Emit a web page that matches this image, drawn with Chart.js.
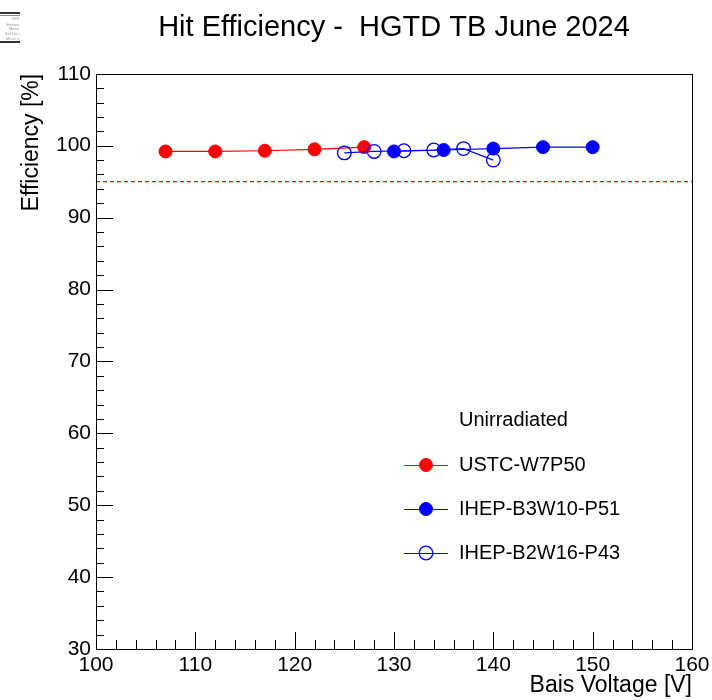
<!DOCTYPE html>
<html>
<head>
<meta charset="utf-8">
<script src="https://cdn.jsdelivr.net/npm/chart.js@4.4.1/dist/chart.umd.min.js"></script>
<style>
  html, body { margin: 0; padding: 0; background: #ffffff; }
  #wrap { width: 712px; height: 700px; }
</style>
</head>
<body>
<div id="wrap"><canvas id="c" width="712" height="700"></canvas></div>
<script>
// Hit efficiency vs. bias voltage, HGTD test beam June 2024
const ustcVoltage = [107, 112, 117, 122, 127];
const ustcEff     = [99.2, 99.2, 99.3, 99.5, 99.8];

const p51Voltage  = [130, 135, 140, 145, 150];
const p51Eff      = [99.2, 99.4, 99.6, 99.8, 99.8];

const p43Voltage  = [125, 128, 131, 134, 137, 140];
const p43Eff      = [99.0, 99.2, 99.3, 99.4, 99.6, 98.0];

const seriesNames = ['USTC-W7P50', 'IHEP-B3W10-P51', 'IHEP-B2W16-P43'];
const legendHeader = 'Unirradiated';
const thresholdEff = 95;

const xTickValues = [100, 110, 120, 130, 140, 150, 160];
const yTickValues = [30, 40, 50, 60, 70, 80, 90, 100, 110];

const FONT = "'Liberation Sans', Arial, Helvetica, sans-serif";
const RED = '#ff0000';
const BLUE = '#0000ff';

const pairs = (xs, ys) => xs.map((x, i) => ({ x: x, y: ys[i] }));

// Inward tick marks (ROOT style), full frame, in-pad legend and stats box corner
const decorations = {
  id: 'decorations',
  afterDraw(chart) {
    const ctx = chart.ctx;
    const a = chart.chartArea;
    const xs = chart.scales.x, ys = chart.scales.y;
    ctx.save();
    ctx.strokeStyle = '#000';
    ctx.lineWidth = 1;

    // frame
    ctx.strokeRect(Math.round(a.left) + 0.5, Math.round(a.top) + 0.5,
                   Math.round(a.right - a.left), Math.round(a.bottom - a.top));

    // y ticks: major every 10, minor every 2
    ctx.beginPath();
    for (let v = ys.min; v <= ys.max + 1e-9; v += 2) {
      const py = Math.round(ys.getPixelForValue(v)) + 0.5;
      const len = (Math.round(v) % 10 === 0) ? 17 : 8;
      ctx.moveTo(a.left, py);
      ctx.lineTo(a.left + len, py);
    }
    // x ticks: major every 10, minor every 2
    for (let v = xs.min; v <= xs.max + 1e-9; v += 2) {
      const px = Math.round(xs.getPixelForValue(v)) + 0.5;
      const len = (Math.round(v) % 10 === 0) ? 17 : 9;
      ctx.moveTo(px, a.bottom);
      ctx.lineTo(px, a.bottom - len);
    }
    ctx.stroke();

    // legend
    const lx0 = 404, lx1 = 448, lmx = 426, tx = 459;
    ctx.font = '20px ' + FONT;
    ctx.fillStyle = '#000';
    ctx.textBaseline = 'middle';
    ctx.textAlign = 'left';
    ctx.fillText(legendHeader, tx, 420);
    const rows = [420 + 45, 420 + 89, 420 + 133];
    for (let i = 0; i < 3; i++) {
      const ds = chart.data.datasets[i];
      const y = rows[i];
      ctx.strokeStyle = ds.borderColor;
      ctx.lineWidth = 1;
      ctx.beginPath();
      ctx.moveTo(lx0, y + 0.5);
      ctx.lineTo(lx1, y + 0.5);
      ctx.stroke();
      ctx.beginPath();
      ctx.arc(lmx, y, ds.pointRadius, 0, Math.PI * 2);
      ctx.fillStyle = ds.pointBackgroundColor;
      ctx.fill();
      ctx.lineWidth = ds.pointBorderWidth;
      ctx.strokeStyle = ds.pointBorderColor;
      ctx.stroke();
      ctx.fillStyle = '#000';
      ctx.fillText(ds.label, tx, y);
    }

    // clipped statistics box in the corner
    ctx.fillStyle = '#fff';
    ctx.fillRect(0, 12, 20, 31);
    ctx.strokeStyle = '#333';
    ctx.lineWidth = 2;
    ctx.beginPath();
    ctx.moveTo(0, 13); ctx.lineTo(20, 13);
    ctx.moveTo(0, 42); ctx.lineTo(20, 42);
    ctx.stroke();
    ctx.lineWidth = 1;
    ctx.strokeStyle = '#888';
    ctx.beginPath();
    ctx.moveTo(0, 15.5); ctx.lineTo(20, 15.5);
    ctx.stroke();
    ctx.font = '4px ' + FONT;
    ctx.fillStyle = '#999';
    ctx.textAlign = 'right';
    const statTxt = ['hEff', 'Entries', 'Mean', 'Std Dev', 'Mean y'];
    const statY = [19, 25, 29, 34, 39];
    statTxt.forEach((t, i) => ctx.fillText(t, 19, statY[i]));
    ctx.restore();
  }
};

new Chart(document.getElementById('c'), {
  type: 'scatter',
  data: {
    datasets: [
      {
        label: seriesNames[0],
        data: pairs(ustcVoltage, ustcEff),
        showLine: true,
        borderColor: RED, borderWidth: 1.2,
        pointRadius: 6.5, pointBorderWidth: 1,
        pointBackgroundColor: RED, pointBorderColor: RED,
        order: 3
      },
      {
        label: seriesNames[1],
        data: pairs(p51Voltage, p51Eff),
        showLine: true,
        borderColor: BLUE, borderWidth: 1.2,
        pointRadius: 6.5, pointBorderWidth: 1,
        pointBackgroundColor: BLUE, pointBorderColor: BLUE,
        order: 2
      },
      {
        label: seriesNames[2],
        data: pairs(p43Voltage, p43Eff),
        showLine: true,
        borderColor: BLUE, borderWidth: 1.2,
        pointRadius: 6.8, pointBorderWidth: 1.3,
        pointBackgroundColor: 'rgba(0,0,0,0)', pointBorderColor: BLUE,
        order: 1
      },
      {
        label: 'threshold',
        data: [{ x: xTickValues[0], y: thresholdEff }, { x: xTickValues[xTickValues.length - 1], y: thresholdEff }],
        showLine: true,
        borderColor: RED, borderWidth: 1.3,
        borderDash: [4, 3],
        pointRadius: 0,
        order: 4
      }
    ]
  },
  options: {
    responsive: false,
    animation: false,
    devicePixelRatio: 1,
    layout: { padding: { top: 0, right: 20, bottom: 0, left: 0 } },
    plugins: {
      legend: { display: false },
      tooltip: { enabled: false },
      title: {
        display: true,
        text: 'Hit Efficiency -  HGTD TB June 2024',
        fullSize: false,
        color: '#000',
        font: { family: FONT, size: 29, weight: 'normal', lineHeight: 1.2 },
        padding: { top: 11, bottom: 28 }
      }
    },
    scales: {
      x: {
        type: 'linear',
        position: 'bottom',
        min: xTickValues[0],
        max: xTickValues[xTickValues.length - 1],
        afterBuildTicks: s => { s.ticks = xTickValues.map(v => ({ value: v })); },
        afterFit: s => { s.height = 51; s.paddingRight = 0; s.paddingLeft = 0; },
        grid: { display: false, drawTicks: false },
        border: { display: false },
        ticks: {
          color: '#000', padding: 4, maxRotation: 0, autoSkip: false,
          font: { family: FONT, size: 21 }
        },
        title: {
          display: true, text: 'Bais Voltage [V]', align: 'end', color: '#000',
          font: { family: FONT, size: 23 }, padding: { top: 0, bottom: 1 }
        }
      },
      y: {
        type: 'linear',
        position: 'left',
        min: yTickValues[0],
        max: yTickValues[yTickValues.length - 1],
        afterBuildTicks: s => { s.ticks = yTickValues.map(v => ({ value: v })); },
        afterFit: s => { s.width = 96; },
        grid: { display: false, drawTicks: false },
        border: { display: false },
        ticks: {
          color: '#000', padding: 5, autoSkip: false,
          font: { family: FONT, size: 21 }
        },
        title: {
          display: true, text: 'Efficiency [%]', align: 'end', color: '#000',
          font: { family: FONT, size: 23 }, padding: { top: 18, bottom: 0 }
        }
      }
    }
  },
  plugins: [decorations]
});
</script>
</body>
</html>
